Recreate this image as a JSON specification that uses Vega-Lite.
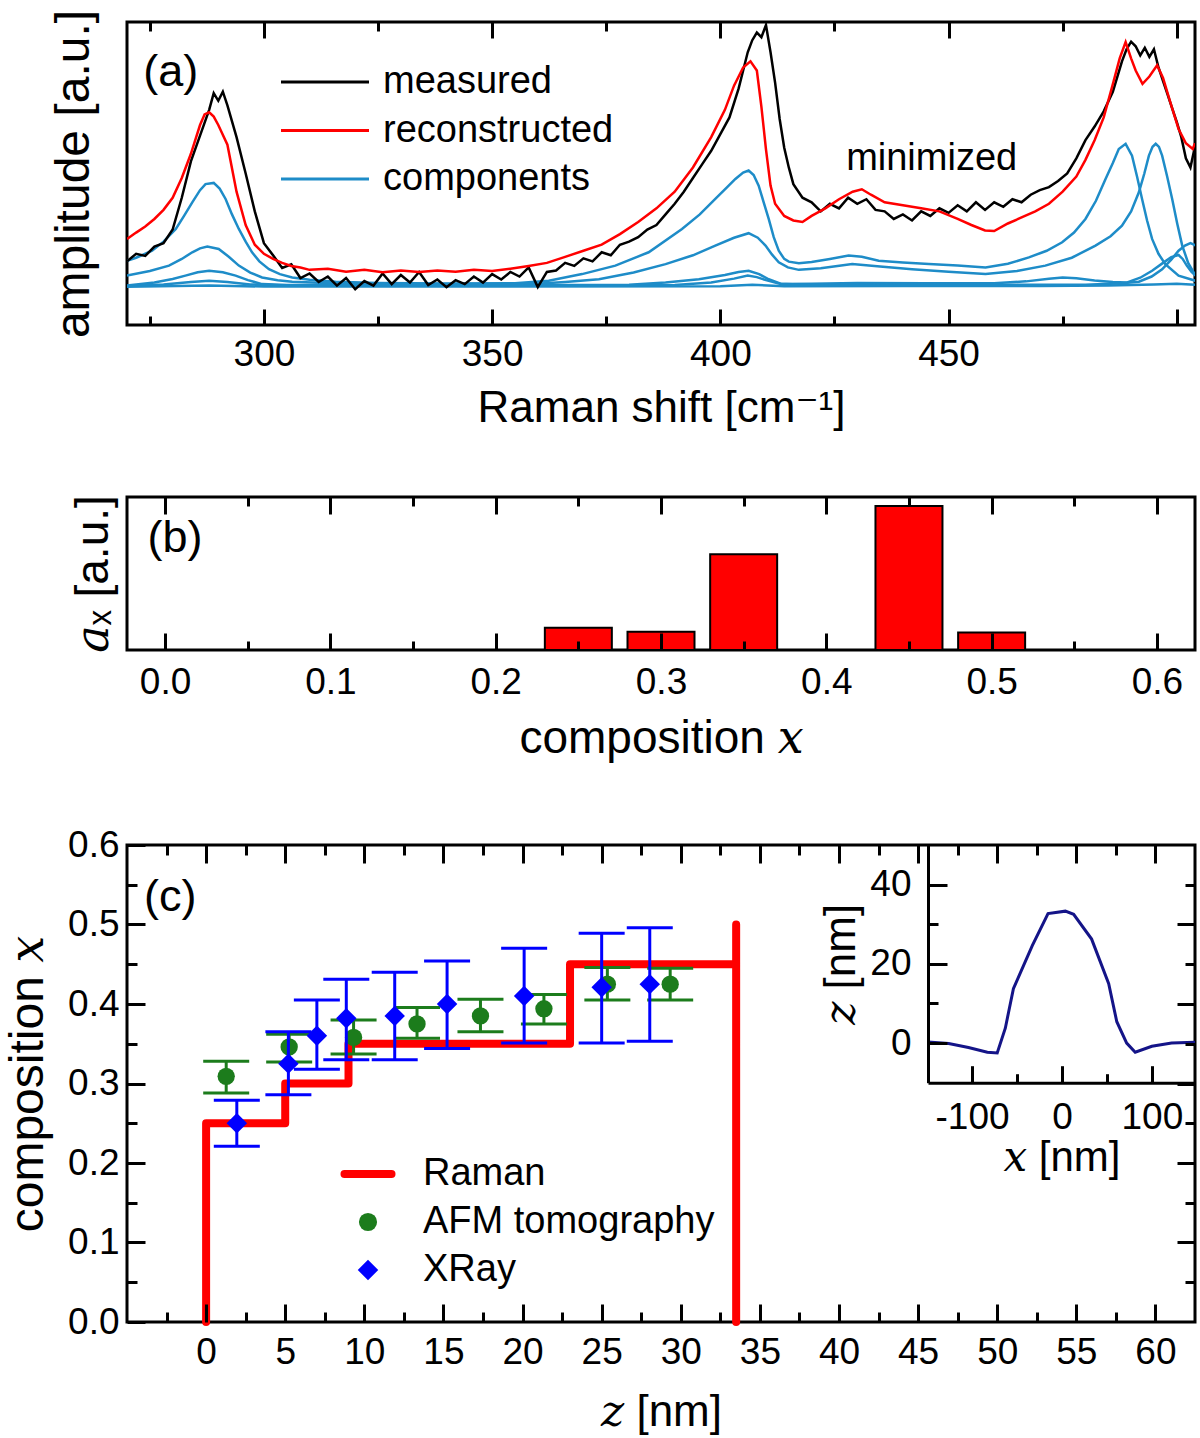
{
  "$schema": "https://vega.github.io/schema/vega-lite/v6.json",
  "background": "white",
  "padding": {"left": 3, "top": 7, "right": 2, "bottom": 2},
  "spacing": 61,
  "resolve": {"scale": {"color": "independent"}, "legend": {"color": "independent"}},
  "config": {
    "view": {"stroke": "#000000", "strokeWidth": 3},
    "axis": {
      "labelFont": "Liberation Sans", "labelFontSize": 37, "labelColor": "#000000",
      "titleFont": "Liberation Sans, DejaVu Serif", "titleFontSize": 44, "titleFontWeight": "normal", "titleColor": "#000000",
      "tickColor": "#000000", "tickWidth": 3, "domain": false, "grid": false,
      "labelFlush": false, "labelOverlap": false, "labelBound": false, "minExtent": 0
    },
    "legend": {"labelFont": "Liberation Sans", "labelColor": "#000000", "labelLimit": 0}
  },
  "datasets": {
    "measured": [
      {"series":"measured","shift":270,"amp":21.0},{"series":"measured","shift":272,"amp":23.5},{"series":"measured","shift":274,"amp":22.8},{"series":"measured","shift":276,"amp":25.9},{"series":"measured","shift":278,"amp":27.0},{"series":"measured","shift":280,"amp":31.5},{"series":"measured","shift":282,"amp":42.0},{"series":"measured","shift":284,"amp":54.0},{"series":"measured","shift":286,"amp":62.5},{"series":"measured","shift":288,"amp":71.0},{"series":"measured","shift":289,"amp":76.5},{"series":"measured","shift":290,"amp":74.0},{"series":"measured","shift":291,"amp":77.0},{"series":"measured","shift":292,"amp":72.5},{"series":"measured","shift":294,"amp":62.0},{"series":"measured","shift":296,"amp":50.0},{"series":"measured","shift":298,"amp":37.5},{"series":"measured","shift":300,"amp":27.0},{"series":"measured","shift":302,"amp":23.0},{"series":"measured","shift":304,"amp":18.8},{"series":"measured","shift":306,"amp":20.0},{"series":"measured","shift":308,"amp":15.5},{"series":"measured","shift":310,"amp":17.0},{"series":"measured","shift":312,"amp":14.2},{"series":"measured","shift":314,"amp":16.0},{"series":"measured","shift":316,"amp":13.0},{"series":"measured","shift":318,"amp":15.5},{"series":"measured","shift":320,"amp":11.8},{"series":"measured","shift":322,"amp":14.5},{"series":"measured","shift":324,"amp":13.0},{"series":"measured","shift":326,"amp":17.0},{"series":"measured","shift":328,"amp":13.5},{"series":"measured","shift":330,"amp":16.5},{"series":"measured","shift":332,"amp":14.0},{"series":"measured","shift":334,"amp":17.5},{"series":"measured","shift":336,"amp":13.2},{"series":"measured","shift":338,"amp":15.0},{"series":"measured","shift":340,"amp":12.5},{"series":"measured","shift":342,"amp":14.8},{"series":"measured","shift":344,"amp":13.5},{"series":"measured","shift":346,"amp":16.0},{"series":"measured","shift":348,"amp":14.0},{"series":"measured","shift":350,"amp":16.8},{"series":"measured","shift":352,"amp":15.0},{"series":"measured","shift":354,"amp":17.5},{"series":"measured","shift":356,"amp":16.0},{"series":"measured","shift":358,"amp":19.0},{"series":"measured","shift":360,"amp":12.5},{"series":"measured","shift":362,"amp":17.5},{"series":"measured","shift":364,"amp":18.0},{"series":"measured","shift":366,"amp":20.5},{"series":"measured","shift":368,"amp":19.5},{"series":"measured","shift":370,"amp":22.0},{"series":"measured","shift":372,"amp":21.0},{"series":"measured","shift":374,"amp":24.0},{"series":"measured","shift":376,"amp":23.0},{"series":"measured","shift":378,"amp":26.5},{"series":"measured","shift":380,"amp":27.5},{"series":"measured","shift":382,"amp":29.0},{"series":"measured","shift":384,"amp":31.5},{"series":"measured","shift":386,"amp":33.0},{"series":"measured","shift":388,"amp":36.5},{"series":"measured","shift":390,"amp":40.0},{"series":"measured","shift":392,"amp":44.0},{"series":"measured","shift":394,"amp":48.5},{"series":"measured","shift":396,"amp":53.0},{"series":"measured","shift":398,"amp":57.5},{"series":"measured","shift":400,"amp":63.0},{"series":"measured","shift":402,"amp":68.5},{"series":"measured","shift":404,"amp":78.0},{"series":"measured","shift":405,"amp":84.0},{"series":"measured","shift":406,"amp":90.0},{"series":"measured","shift":407,"amp":94.0},{"series":"measured","shift":408,"amp":96.5},{"series":"measured","shift":409,"amp":95.0},{"series":"measured","shift":410,"amp":99.0},{"series":"measured","shift":411,"amp":90.0},{"series":"measured","shift":412,"amp":80.0},{"series":"measured","shift":413,"amp":68.0},{"series":"measured","shift":414,"amp":58.5},{"series":"measured","shift":415,"amp":52.0},{"series":"measured","shift":416,"amp":46.5},{"series":"measured","shift":418,"amp":42.0},{"series":"measured","shift":420,"amp":40.5},{"series":"measured","shift":422,"amp":37.5},{"series":"measured","shift":424,"amp":40.0},{"series":"measured","shift":426,"amp":38.5},{"series":"measured","shift":428,"amp":42.0},{"series":"measured","shift":430,"amp":40.0},{"series":"measured","shift":432,"amp":41.5},{"series":"measured","shift":434,"amp":38.0},{"series":"measured","shift":436,"amp":37.5},{"series":"measured","shift":438,"amp":35.0},{"series":"measured","shift":440,"amp":36.5},{"series":"measured","shift":442,"amp":34.5},{"series":"measured","shift":444,"amp":37.5},{"series":"measured","shift":446,"amp":36.0},{"series":"measured","shift":448,"amp":38.5},{"series":"measured","shift":450,"amp":37.0},{"series":"measured","shift":452,"amp":39.5},{"series":"measured","shift":454,"amp":37.5},{"series":"measured","shift":456,"amp":40.5},{"series":"measured","shift":458,"amp":38.0},{"series":"measured","shift":460,"amp":40.5},{"series":"measured","shift":462,"amp":39.0},{"series":"measured","shift":464,"amp":41.5},{"series":"measured","shift":466,"amp":40.5},{"series":"measured","shift":468,"amp":43.0},{"series":"measured","shift":470,"amp":44.5},{"series":"measured","shift":472,"amp":45.5},{"series":"measured","shift":474,"amp":47.5},{"series":"measured","shift":476,"amp":50.0},{"series":"measured","shift":478,"amp":55.0},{"series":"measured","shift":480,"amp":61.0},{"series":"measured","shift":482,"amp":65.5},{"series":"measured","shift":484,"amp":70.5},{"series":"measured","shift":486,"amp":77.0},{"series":"measured","shift":488,"amp":87.0},{"series":"measured","shift":489,"amp":91.0},{"series":"measured","shift":490,"amp":93.5},{"series":"measured","shift":491,"amp":92.0},{"series":"measured","shift":492,"amp":89.0},{"series":"measured","shift":493,"amp":91.5},{"series":"measured","shift":494,"amp":88.5},{"series":"measured","shift":495,"amp":91.0},{"series":"measured","shift":496,"amp":85.0},{"series":"measured","shift":497,"amp":80.5},{"series":"measured","shift":498,"amp":76.0},{"series":"measured","shift":499,"amp":71.5},{"series":"measured","shift":500,"amp":67.0},{"series":"measured","shift":501,"amp":62.0},{"series":"measured","shift":502,"amp":55.0},{"series":"measured","shift":503,"amp":52.0},{"series":"measured","shift":504,"amp":59.0}
    ],
    "reconstructed": [
      {"series":"reconstructed","shift":270,"amp":28.4},{"series":"reconstructed","shift":272,"amp":30.5},{"series":"reconstructed","shift":274,"amp":32.5},{"series":"reconstructed","shift":276,"amp":35.0},{"series":"reconstructed","shift":278,"amp":38.0},{"series":"reconstructed","shift":280,"amp":42.0},{"series":"reconstructed","shift":282,"amp":48.5},{"series":"reconstructed","shift":284,"amp":56.5},{"series":"reconstructed","shift":286,"amp":66.0},{"series":"reconstructed","shift":287,"amp":69.5},{"series":"reconstructed","shift":288,"amp":70.2},{"series":"reconstructed","shift":289,"amp":68.8},{"series":"reconstructed","shift":290,"amp":66.0},{"series":"reconstructed","shift":292,"amp":59.5},{"series":"reconstructed","shift":294,"amp":44.0},{"series":"reconstructed","shift":296,"amp":33.0},{"series":"reconstructed","shift":298,"amp":26.5},{"series":"reconstructed","shift":300,"amp":23.5},{"series":"reconstructed","shift":302,"amp":21.8},{"series":"reconstructed","shift":304,"amp":20.5},{"series":"reconstructed","shift":306,"amp":19.5},{"series":"reconstructed","shift":308,"amp":19.0},{"series":"reconstructed","shift":310,"amp":18.2},{"series":"reconstructed","shift":314,"amp":18.6},{"series":"reconstructed","shift":318,"amp":17.6},{"series":"reconstructed","shift":322,"amp":18.2},{"series":"reconstructed","shift":326,"amp":17.4},{"series":"reconstructed","shift":330,"amp":18.0},{"series":"reconstructed","shift":334,"amp":17.5},{"series":"reconstructed","shift":338,"amp":18.0},{"series":"reconstructed","shift":342,"amp":17.6},{"series":"reconstructed","shift":346,"amp":18.2},{"series":"reconstructed","shift":350,"amp":17.8},{"series":"reconstructed","shift":354,"amp":18.6},{"series":"reconstructed","shift":358,"amp":19.5},{"series":"reconstructed","shift":362,"amp":20.5},{"series":"reconstructed","shift":366,"amp":22.5},{"series":"reconstructed","shift":370,"amp":24.5},{"series":"reconstructed","shift":374,"amp":26.5},{"series":"reconstructed","shift":378,"amp":30.0},{"series":"reconstructed","shift":382,"amp":34.0},{"series":"reconstructed","shift":386,"amp":38.5},{"series":"reconstructed","shift":390,"amp":44.0},{"series":"reconstructed","shift":394,"amp":52.0},{"series":"reconstructed","shift":398,"amp":62.0},{"series":"reconstructed","shift":401,"amp":71.0},{"series":"reconstructed","shift":403,"amp":79.0},{"series":"reconstructed","shift":405,"amp":85.0},{"series":"reconstructed","shift":406.6,"amp":87.0},{"series":"reconstructed","shift":408,"amp":84.0},{"series":"reconstructed","shift":409,"amp":72.0},{"series":"reconstructed","shift":410,"amp":58.0},{"series":"reconstructed","shift":411,"amp":46.0},{"series":"reconstructed","shift":412,"amp":40.0},{"series":"reconstructed","shift":414,"amp":36.0},{"series":"reconstructed","shift":416,"amp":34.5},{"series":"reconstructed","shift":418,"amp":34.0},{"series":"reconstructed","shift":420,"amp":36.0},{"series":"reconstructed","shift":423,"amp":38.5},{"series":"reconstructed","shift":426,"amp":41.5},{"series":"reconstructed","shift":429,"amp":44.0},{"series":"reconstructed","shift":431,"amp":44.8},{"series":"reconstructed","shift":433,"amp":43.0},{"series":"reconstructed","shift":436,"amp":40.5},{"series":"reconstructed","shift":440,"amp":39.5},{"series":"reconstructed","shift":444,"amp":38.5},{"series":"reconstructed","shift":448,"amp":37.5},{"series":"reconstructed","shift":452,"amp":35.0},{"series":"reconstructed","shift":455,"amp":33.0},{"series":"reconstructed","shift":458,"amp":31.2},{"series":"reconstructed","shift":460,"amp":31.0},{"series":"reconstructed","shift":463,"amp":33.5},{"series":"reconstructed","shift":466,"amp":35.5},{"series":"reconstructed","shift":469,"amp":37.5},{"series":"reconstructed","shift":472,"amp":40.0},{"series":"reconstructed","shift":475,"amp":44.0},{"series":"reconstructed","shift":478,"amp":49.0},{"series":"reconstructed","shift":480,"amp":54.5},{"series":"reconstructed","shift":482,"amp":61.0},{"series":"reconstructed","shift":484,"amp":68.5},{"series":"reconstructed","shift":486,"amp":79.5},{"series":"reconstructed","shift":487.5,"amp":88.0},{"series":"reconstructed","shift":488.8,"amp":93.4},{"series":"reconstructed","shift":490,"amp":88.0},{"series":"reconstructed","shift":491,"amp":84.0},{"series":"reconstructed","shift":492.5,"amp":79.6},{"series":"reconstructed","shift":494,"amp":82.0},{"series":"reconstructed","shift":495.7,"amp":85.7},{"series":"reconstructed","shift":497,"amp":81.5},{"series":"reconstructed","shift":498.5,"amp":74.0},{"series":"reconstructed","shift":500.4,"amp":64.7},{"series":"reconstructed","shift":502,"amp":60.0},{"series":"reconstructed","shift":503.5,"amp":58.1},{"series":"reconstructed","shift":504,"amp":60.0}
    ],
    "components": [
      {"series":"components","curve":"c1","shift":270,"amp":21.2},{"series":"components","curve":"c1","shift":272,"amp":22.2},{"series":"components","curve":"c1","shift":275.5,"amp":24.5},{"series":"components","curve":"c1","shift":278,"amp":27.5},{"series":"components","curve":"c1","shift":280.7,"amp":31.7},{"series":"components","curve":"c1","shift":282.5,"amp":36.0},{"series":"components","curve":"c1","shift":284.3,"amp":40.5},{"series":"components","curve":"c1","shift":286,"amp":44.5},{"series":"components","curve":"c1","shift":287.2,"amp":46.5},{"series":"components","curve":"c1","shift":289,"amp":46.9},{"series":"components","curve":"c1","shift":290.3,"amp":45.0},{"series":"components","curve":"c1","shift":291.6,"amp":41.6},{"series":"components","curve":"c1","shift":293,"amp":36.5},{"series":"components","curve":"c1","shift":294.5,"amp":31.7},{"series":"components","curve":"c1","shift":296,"amp":27.5},{"series":"components","curve":"c1","shift":297.4,"amp":24.0},{"series":"components","curve":"c1","shift":299,"amp":21.0},{"series":"components","curve":"c1","shift":301.1,"amp":18.4},{"series":"components","curve":"c1","shift":303.5,"amp":16.8},{"series":"components","curve":"c1","shift":306.2,"amp":15.7},{"series":"components","curve":"c1","shift":310,"amp":14.9},{"series":"components","curve":"c1","shift":315.7,"amp":14.3},{"series":"components","curve":"c1","shift":325,"amp":13.9},{"series":"components","curve":"c1","shift":340,"amp":13.7},{"series":"components","curve":"c1","shift":355,"amp":13.8},{"series":"components","curve":"c1","shift":362.4,"amp":14.6},{"series":"components","curve":"c1","shift":369.7,"amp":16.8},{"series":"components","curve":"c1","shift":377,"amp":19.6},{"series":"components","curve":"c1","shift":384.3,"amp":24.0},{"series":"components","curve":"c1","shift":391.6,"amp":31.7},{"series":"components","curve":"c1","shift":395.5,"amp":36.5},{"series":"components","curve":"c1","shift":398.9,"amp":41.6},{"series":"components","curve":"c1","shift":401.5,"amp":45.5},{"series":"components","curve":"c1","shift":403.3,"amp":48.2},{"series":"components","curve":"c1","shift":405,"amp":50.3},{"series":"components","curve":"c1","shift":406.2,"amp":51.0},{"series":"components","curve":"c1","shift":407.3,"amp":49.5},{"series":"components","curve":"c1","shift":408.4,"amp":46.0},{"series":"components","curve":"c1","shift":409.5,"amp":40.5},{"series":"components","curve":"c1","shift":410.6,"amp":35.0},{"series":"components","curve":"c1","shift":411.7,"amp":29.0},{"series":"components","curve":"c1","shift":412.8,"amp":24.5},{"series":"components","curve":"c1","shift":414,"amp":21.8},{"series":"components","curve":"c1","shift":415,"amp":20.9},{"series":"components","curve":"c1","shift":417.2,"amp":20.4},{"series":"components","curve":"c1","shift":420,"amp":20.8},{"series":"components","curve":"c1","shift":424,"amp":21.8},{"series":"components","curve":"c1","shift":428.1,"amp":22.9},{"series":"components","curve":"c1","shift":431,"amp":22.5},{"series":"components","curve":"c1","shift":434.7,"amp":21.2},{"series":"components","curve":"c1","shift":440,"amp":20.6},{"series":"components","curve":"c1","shift":445.7,"amp":20.1},{"series":"components","curve":"c1","shift":452,"amp":19.6},{"series":"components","curve":"c1","shift":458.1,"amp":19.0},{"series":"components","curve":"c1","shift":463,"amp":20.2},{"series":"components","curve":"c1","shift":467.6,"amp":22.3},{"series":"components","curve":"c1","shift":471.5,"amp":24.5},{"series":"components","curve":"c1","shift":474.9,"amp":27.3},{"series":"components","curve":"c1","shift":477.5,"amp":30.5},{"series":"components","curve":"c1","shift":480,"amp":35.0},{"series":"components","curve":"c1","shift":482.3,"amp":41.0},{"series":"components","curve":"c1","shift":484.4,"amp":48.2},{"series":"components","curve":"c1","shift":486,"amp":53.5},{"series":"components","curve":"c1","shift":487.3,"amp":58.1},{"series":"components","curve":"c1","shift":488.8,"amp":59.8},{"series":"components","curve":"c1","shift":490.2,"amp":55.9},{"series":"components","curve":"c1","shift":491.3,"amp":49.0},{"series":"components","curve":"c1","shift":492.4,"amp":41.6},{"series":"components","curve":"c1","shift":493.5,"amp":34.5},{"series":"components","curve":"c1","shift":494.6,"amp":28.4},{"series":"components","curve":"c1","shift":496,"amp":23.5},{"series":"components","curve":"c1","shift":497.5,"amp":20.1},{"series":"components","curve":"c1","shift":500.4,"amp":16.3},{"series":"components","curve":"c1","shift":504.1,"amp":14.6},
      {"series":"components","curve":"c2","shift":270,"amp":16.3},{"series":"components","curve":"c2","shift":275,"amp":17.8},{"series":"components","curve":"c2","shift":279.2,"amp":19.6},{"series":"components","curve":"c2","shift":282,"amp":21.8},{"series":"components","curve":"c2","shift":284.3,"amp":24.0},{"series":"components","curve":"c2","shift":286,"amp":25.3},{"series":"components","curve":"c2","shift":287.6,"amp":25.9},{"series":"components","curve":"c2","shift":290.1,"amp":25.1},{"series":"components","curve":"c2","shift":292.3,"amp":22.5},{"series":"components","curve":"c2","shift":294.5,"amp":19.6},{"series":"components","curve":"c2","shift":297,"amp":17.3},{"series":"components","curve":"c2","shift":299.6,"amp":15.7},{"series":"components","curve":"c2","shift":303,"amp":14.8},{"series":"components","curve":"c2","shift":306.2,"amp":14.3},{"series":"components","curve":"c2","shift":315,"amp":13.8},{"series":"components","curve":"c2","shift":330,"amp":13.5},{"series":"components","curve":"c2","shift":358.8,"amp":13.5},{"series":"components","curve":"c2","shift":366,"amp":14.2},{"series":"components","curve":"c2","shift":373.4,"amp":15.1},{"series":"components","curve":"c2","shift":381,"amp":17.3},{"series":"components","curve":"c2","shift":388,"amp":20.1},{"series":"components","curve":"c2","shift":394,"amp":23.0},{"series":"components","curve":"c2","shift":398.9,"amp":26.2},{"series":"components","curve":"c2","shift":403,"amp":28.8},{"series":"components","curve":"c2","shift":406.2,"amp":30.3},{"series":"components","curve":"c2","shift":408.2,"amp":28.8},{"series":"components","curve":"c2","shift":409.9,"amp":26.2},{"series":"components","curve":"c2","shift":411.3,"amp":23.3},{"series":"components","curve":"c2","shift":412.8,"amp":20.7},{"series":"components","curve":"c2","shift":414.8,"amp":19.0},{"series":"components","curve":"c2","shift":417.2,"amp":18.2},{"series":"components","curve":"c2","shift":422,"amp":18.7},{"series":"components","curve":"c2","shift":428.9,"amp":20.1},{"series":"components","curve":"c2","shift":435,"amp":19.3},{"series":"components","curve":"c2","shift":442,"amp":18.4},{"series":"components","curve":"c2","shift":450,"amp":17.6},{"series":"components","curve":"c2","shift":458.1,"amp":16.8},{"series":"components","curve":"c2","shift":465,"amp":17.8},{"series":"components","curve":"c2","shift":471.2,"amp":19.6},{"series":"components","curve":"c2","shift":477,"amp":22.2},{"series":"components","curve":"c2","shift":482.2,"amp":26.2},{"series":"components","curve":"c2","shift":485.5,"amp":29.3},{"series":"components","curve":"c2","shift":488,"amp":32.8},{"series":"components","curve":"c2","shift":490,"amp":37.5},{"series":"components","curve":"c2","shift":491.7,"amp":43.8},{"series":"components","curve":"c2","shift":492.9,"amp":50.0},{"series":"components","curve":"c2","shift":493.9,"amp":55.9},{"series":"components","curve":"c2","shift":494.7,"amp":58.8},{"series":"components","curve":"c2","shift":495.4,"amp":59.8},{"series":"components","curve":"c2","shift":496.1,"amp":58.8},{"series":"components","curve":"c2","shift":496.8,"amp":55.9},{"series":"components","curve":"c2","shift":497.9,"amp":49.0},{"series":"components","curve":"c2","shift":499,"amp":41.6},{"series":"components","curve":"c2","shift":500.1,"amp":33.5},{"series":"components","curve":"c2","shift":501.2,"amp":26.2},{"series":"components","curve":"c2","shift":502.5,"amp":20.5},{"series":"components","curve":"c2","shift":504.1,"amp":16.3},
      {"series":"components","curve":"c3","shift":270,"amp":13.0},{"series":"components","curve":"c3","shift":276,"amp":14.0},{"series":"components","curve":"c3","shift":280,"amp":15.2},{"series":"components","curve":"c3","shift":282.8,"amp":16.3},{"series":"components","curve":"c3","shift":285.5,"amp":17.4},{"series":"components","curve":"c3","shift":288,"amp":17.9},{"series":"components","curve":"c3","shift":291,"amp":17.4},{"series":"components","curve":"c3","shift":293.8,"amp":16.3},{"series":"components","curve":"c3","shift":296.5,"amp":14.8},{"series":"components","curve":"c3","shift":299.6,"amp":13.5},{"series":"components","curve":"c3","shift":305,"amp":13.2},{"series":"components","curve":"c3","shift":320,"amp":13.2},{"series":"components","curve":"c3","shift":350,"amp":13.2},{"series":"components","curve":"c3","shift":380,"amp":13.3},{"series":"components","curve":"c3","shift":388,"amp":14.0},{"series":"components","curve":"c3","shift":395.3,"amp":15.1},{"series":"components","curve":"c3","shift":401,"amp":16.5},{"series":"components","curve":"c3","shift":404,"amp":17.5},{"series":"components","curve":"c3","shift":406.2,"amp":17.9},{"series":"components","curve":"c3","shift":408.5,"amp":16.8},{"series":"components","curve":"c3","shift":410.6,"amp":15.1},{"series":"components","curve":"c3","shift":413.5,"amp":13.5},{"series":"components","curve":"c3","shift":420,"amp":13.6},{"series":"components","curve":"c3","shift":430,"amp":13.9},{"series":"components","curve":"c3","shift":445,"amp":13.8},{"series":"components","curve":"c3","shift":460,"amp":13.8},{"series":"components","curve":"c3","shift":467,"amp":14.4},{"series":"components","curve":"c3","shift":472,"amp":15.3},{"series":"components","curve":"c3","shift":475,"amp":15.7},{"series":"components","curve":"c3","shift":478,"amp":15.4},{"series":"components","curve":"c3","shift":482,"amp":14.7},{"series":"components","curve":"c3","shift":486,"amp":14.2},{"series":"components","curve":"c3","shift":489,"amp":14.0},{"series":"components","curve":"c3","shift":492,"amp":15.6},{"series":"components","curve":"c3","shift":494.6,"amp":17.9},{"series":"components","curve":"c3","shift":497,"amp":20.5},{"series":"components","curve":"c3","shift":498.8,"amp":22.4},{"series":"components","curve":"c3","shift":500.4,"amp":23.1},{"series":"components","curve":"c3","shift":501.3,"amp":21.8},{"series":"components","curve":"c3","shift":502.2,"amp":19.6},{"series":"components","curve":"c3","shift":503.2,"amp":17.6},{"series":"components","curve":"c3","shift":504.1,"amp":16.3},
      {"series":"components","curve":"c4","shift":270,"amp":12.9},{"series":"components","curve":"c4","shift":278,"amp":13.4},{"series":"components","curve":"c4","shift":284,"amp":14.2},{"series":"components","curve":"c4","shift":288,"amp":14.6},{"series":"components","curve":"c4","shift":292,"amp":14.2},{"series":"components","curve":"c4","shift":297,"amp":13.4},{"series":"components","curve":"c4","shift":305,"amp":13.0},{"series":"components","curve":"c4","shift":350,"amp":13.0},{"series":"components","curve":"c4","shift":390,"amp":13.2},{"series":"components","curve":"c4","shift":398,"amp":14.0},{"series":"components","curve":"c4","shift":403,"amp":15.3},{"series":"components","curve":"c4","shift":406,"amp":16.3},{"series":"components","curve":"c4","shift":408,"amp":15.8},{"series":"components","curve":"c4","shift":410,"amp":14.8},{"series":"components","curve":"c4","shift":413,"amp":13.6},{"series":"components","curve":"c4","shift":420,"amp":13.2},{"series":"components","curve":"c4","shift":440,"amp":13.4},{"series":"components","curve":"c4","shift":460,"amp":13.3},{"series":"components","curve":"c4","shift":480,"amp":13.3},{"series":"components","curve":"c4","shift":488,"amp":13.8},{"series":"components","curve":"c4","shift":491.7,"amp":14.3},{"series":"components","curve":"c4","shift":494.5,"amp":16.0},{"series":"components","curve":"c4","shift":496.8,"amp":18.4},{"series":"components","curve":"c4","shift":498.8,"amp":21.6},{"series":"components","curve":"c4","shift":500.4,"amp":24.5},{"series":"components","curve":"c4","shift":501.8,"amp":26.2},{"series":"components","curve":"c4","shift":503,"amp":27.0},{"series":"components","curve":"c4","shift":504.3,"amp":26.2},
      {"series":"components","curve":"c5","shift":270,"amp":12.6},{"series":"components","curve":"c5","shift":288,"amp":13.0},{"series":"components","curve":"c5","shift":300,"amp":12.7},{"series":"components","curve":"c5","shift":350,"amp":12.7},{"series":"components","curve":"c5","shift":400,"amp":12.8},{"series":"components","curve":"c5","shift":407,"amp":13.3},{"series":"components","curve":"c5","shift":414,"amp":12.8},{"series":"components","curve":"c5","shift":440,"amp":12.9},{"series":"components","curve":"c5","shift":470,"amp":12.9},{"series":"components","curve":"c5","shift":485,"amp":13.0},{"series":"components","curve":"c5","shift":495,"amp":13.4},{"series":"components","curve":"c5","shift":500,"amp":13.6},{"series":"components","curve":"c5","shift":504,"amp":13.3}
    ],
    "bars": [
      {"x":0.25,"weight":0.146},{"x":0.30,"weight":0.12},{"x":0.35,"weight":0.626},{"x":0.45,"weight":0.941},{"x":0.50,"weight":0.115}
    ],
    "raman": [
      {"series":"Raman","z":0,"x":0},{"series":"Raman","z":0,"x":0.25},{"series":"Raman","z":5,"x":0.25},{"series":"Raman","z":5,"x":0.30},{"series":"Raman","z":9,"x":0.30},{"series":"Raman","z":9,"x":0.35},{"series":"Raman","z":23,"x":0.35},{"series":"Raman","z":23,"x":0.45},{"series":"Raman","z":33.5,"x":0.45},{"series":"Raman","z":33.5,"x":0.50},{"series":"Raman","z":33.5,"x":0}
    ],
    "afm": [
      {"series":"AFM tomography","z":1.27,"x":0.309,"lo":0.288,"hi":0.328},
      {"series":"AFM tomography","z":5.25,"x":0.346,"lo":0.327,"hi":0.362},
      {"series":"AFM tomography","z":9.32,"x":0.358,"lo":0.337,"hi":0.380},
      {"series":"AFM tomography","z":13.33,"x":0.375,"lo":0.357,"hi":0.3955},
      {"series":"AFM tomography","z":17.34,"x":0.385,"lo":0.365,"hi":0.406},
      {"series":"AFM tomography","z":21.35,"x":0.394,"lo":0.375,"hi":0.412},
      {"series":"AFM tomography","z":25.36,"x":0.425,"lo":0.405,"hi":0.446},
      {"series":"AFM tomography","z":29.33,"x":0.425,"lo":0.405,"hi":0.445}
    ],
    "xray": [
      {"series":"XRay","z":1.94,"x":0.250,"lo":0.221,"hi":0.279},
      {"series":"XRay","z":5.2,"x":0.325,"lo":0.286,"hi":0.365},
      {"series":"XRay","z":7.0,"x":0.360,"lo":0.318,"hi":0.405},
      {"series":"XRay","z":8.86,"x":0.382,"lo":0.330,"hi":0.431},
      {"series":"XRay","z":11.92,"x":0.385,"lo":0.330,"hi":0.440},
      {"series":"XRay","z":15.23,"x":0.400,"lo":0.344,"hi":0.454},
      {"series":"XRay","z":20.1,"x":0.410,"lo":0.351,"hi":0.470},
      {"series":"XRay","z":25.0,"x":0.421,"lo":0.351,"hi":0.489},
      {"series":"XRay","z":28.04,"x":0.425,"lo":0.353,"hi":0.496}
    ],
    "inset": [
      {"pos":-149,"height":0.25},{"pos":-126,"height":-0.1},{"pos":-104,"height":-1.1},{"pos":-83,"height":-2.3},{"pos":-72,"height":-2.5},{"pos":-63,"height":3.75},{"pos":-54,"height":13.75},{"pos":-33,"height":24.6},{"pos":-15.5,"height":32.7},{"pos":3.8,"height":33.3},{"pos":13,"height":32.5},{"pos":33,"height":26.25},{"pos":52,"height":15},{"pos":61,"height":5.4},{"pos":72,"height":0},{"pos":81.5,"height":-2.3},{"pos":100,"height":-0.8},{"pos":122,"height":0},{"pos":148,"height":0.2}
    ]
  },
  "vconcat": [
    {
      "width": 1068, "height": 303,
      "resolve": {"axis": {"x": "independent", "y": "independent"}},
      "layer": [
        {
          "data": {"name": "components"},
          "mark": {"type": "line", "strokeWidth": 2.5, "clip": true},
          "encoding": {
            "x": {"field": "shift", "type": "quantitative", "scale": {"domain": [270, 504], "nice": false, "zero": false},
              "axis": {"orient": "bottom", "title": "Raman shift [cm⁻¹]", "values": [275,300,325,350,375,400,425,450,475,500],
                "labelExpr": "datum.value % 50 === 0 && datum.value < 500 ? toString(datum.value) : ''",
                "tickSize": {"condition": {"test": "datum.value % 50 === 0", "value": -16}, "value": -9},
                "labelPadding": 27, "titlePadding": 7, "zindex": 1}},
            "y": {"field": "amp", "type": "quantitative", "scale": {"domain": [0, 100], "nice": false, "zero": false},
              "axis": {"orient": "left", "title": "amplitude [a.u.]", "labels": false, "ticks": false, "titlePadding": 29, "titleFontSize": 48}},
            "color": {"field": "series", "type": "nominal",
              "scale": {"domain": ["measured", "reconstructed", "components"], "range": ["#000000", "#ff0000", "#1e8cc8"]},
              "legend": {"orient": "none", "legendX": 179, "legendY": 41, "title": null, "symbolType": "M-4,0L4,0", "symbolSize": 484, "symbolStrokeWidth": 3, "labelFontSize": 38, "labelOffset": 39, "rowPadding": 10.5, "padding": 0}},
            "detail": {"field": "curve", "type": "nominal"}
          }
        },
        {
          "data": {"name": "measured"},
          "mark": {"type": "line", "strokeWidth": 2.5, "clip": true},
          "encoding": {
            "x": {"field": "shift", "type": "quantitative", "scale": {"domain": [270, 504], "nice": false, "zero": false},
              "axis": {"orient": "top", "title": null, "labels": false, "values": [275,300,325,350,375,400,425,450,475,500],
                "tickSize": {"condition": {"test": "datum.value % 50 === 0", "value": -16}, "value": -9}, "zindex": 1}},
            "y": {"field": "amp", "type": "quantitative", "scale": {"domain": [0, 100], "nice": false, "zero": false}, "axis": null},
            "color": {"field": "series", "type": "nominal", "scale": {"domain": ["measured", "reconstructed", "components"], "range": ["#000000", "#ff0000", "#1e8cc8"]}}
          }
        },
        {
          "data": {"name": "reconstructed"},
          "mark": {"type": "line", "strokeWidth": 2.5, "clip": true},
          "encoding": {
            "x": {"field": "shift", "type": "quantitative", "scale": {"domain": [270, 504], "nice": false, "zero": false}, "axis": null},
            "y": {"field": "amp", "type": "quantitative", "scale": {"domain": [0, 100], "nice": false, "zero": false}, "axis": null},
            "color": {"field": "series", "type": "nominal", "scale": {"domain": ["measured", "reconstructed", "components"], "range": ["#000000", "#ff0000", "#1e8cc8"]}}
          }
        },
        {
          "data": {"values": [{}]},
          "mark": {"type": "text", "font": "Liberation Sans", "fontSize": 45, "color": "#000000", "align": "center", "baseline": "middle"},
          "encoding": {
            "x": {"datum": 279.6, "type": "quantitative", "scale": {"domain": [270, 504], "nice": false, "zero": false}, "axis": null},
            "y": {"datum": 83.5, "type": "quantitative", "scale": {"domain": [0, 100], "nice": false, "zero": false}, "axis": null},
            "text": {"value": "(a)"}
          }
        },
        {
          "data": {"values": [{}]},
          "mark": {"type": "text", "font": "Liberation Sans", "fontSize": 38, "color": "#000000", "align": "center", "baseline": "middle"},
          "encoding": {
            "x": {"datum": 446.3, "type": "quantitative", "scale": {"domain": [270, 504], "nice": false, "zero": false}, "axis": null},
            "y": {"datum": 54.7, "type": "quantitative", "scale": {"domain": [0, 100], "nice": false, "zero": false}, "axis": null},
            "text": {"value": "minimized"}
          }
        }
      ]
    },
    {
      "width": 1068, "height": 153,
      "resolve": {"axis": {"x": "independent", "y": "independent"}},
      "layer": [
        {
          "data": {"name": "bars"},
          "mark": {"type": "bar", "width": 67, "fill": "#ff0000", "stroke": "#000000", "strokeWidth": 2},
          "encoding": {
            "x": {"field": "x", "type": "quantitative", "scale": {"domain": [-0.02, 0.62], "nice": false, "zero": false},
              "axis": {"orient": "bottom", "title": "composition 𝑥", "titleFontSize": 46, "values": [0,0.05,0.1,0.15,0.2,0.25,0.3,0.35,0.4,0.45,0.5,0.55,0.6],
                "labelExpr": "abs(datum.value*10 - round(datum.value*10)) < 0.001 ? format(datum.value, '.1f') : ''",
                "tickSize": {"condition": {"test": "abs(datum.value*10 - round(datum.value*10)) < 0.001", "value": -17}, "value": -9},
                "labelPadding": 31, "titlePadding": 8, "zindex": 1}},
            "y": {"field": "weight", "type": "quantitative", "scale": {"domain": [0, 1], "nice": false, "zero": false},
              "axis": {"orient": "left", "title": "𝑎ₓ [a.u.]", "labels": false, "ticks": false, "titlePadding": 10, "titleFontSize": 46}}
          }
        },
        {
          "data": {"values": [{}]},
          "mark": {"type": "text", "font": "Liberation Sans", "fontSize": 45, "color": "#000000", "align": "center", "baseline": "middle"},
          "encoding": {
            "x": {"datum": 0.006, "type": "quantitative", "scale": {"domain": [-0.02, 0.62], "nice": false, "zero": false},
              "axis": {"orient": "top", "title": null, "labels": false, "values": [0,0.05,0.1,0.15,0.2,0.25,0.3,0.35,0.4,0.45,0.5,0.55,0.6],
                "tickSize": {"condition": {"test": "abs(datum.value*10 - round(datum.value*10)) < 0.001", "value": -17}, "value": -9}, "zindex": 1}},
            "y": {"datum": 0.73, "type": "quantitative", "scale": {"domain": [0, 1], "nice": false, "zero": false}, "axis": null},
            "text": {"value": "(b)"}
          }
        }
      ]
    },
    {
      "width": 1068, "height": 477,
      "resolve": {"scale": {"x": "independent", "y": "independent"}},
      "layer": [
        {
          "resolve": {"axis": {"x": "independent", "y": "independent"}},
          "layer": [
            {
              "data": {"name": "raman"},
              "mark": {"type": "line", "strokeWidth": 8, "strokeCap": "round", "strokeJoin": "round"},
              "encoding": {
                "x": {"field": "z", "type": "quantitative", "scale": {"domain": [-5, 62.5], "nice": false, "zero": false},
                  "axis": {"orient": "bottom", "title": "𝑧 [nm]", "values": [-2.5,0,2.5,5,7.5,10,12.5,15,17.5,20,22.5,25,27.5,30,32.5,35,37.5,40,42.5,45,47.5,50,52.5,55,57.5,60],
                    "labelExpr": "datum.value % 5 === 0 && datum.value >= 0 ? toString(datum.value) : ''",
                    "tickSize": {"condition": {"test": "datum.value % 5 === 0", "value": -18}, "value": -10},
                    "labelPadding": 30, "titlePadding": 12, "zindex": 1}},
                "y": {"field": "x", "type": "quantitative", "scale": {"domain": [0, 0.6], "nice": false, "zero": false},
                  "axis": {"orient": "left", "title": "composition 𝑥", "titleFontSize": 48, "values": [0,0.05,0.1,0.15,0.2,0.25,0.3,0.35,0.4,0.45,0.5,0.55,0.6],
                    "labelExpr": "abs(datum.value*10 - round(datum.value*10)) < 0.001 ? format(datum.value, '.1f') : ''",
                    "tickSize": {"condition": {"test": "abs(datum.value*10 - round(datum.value*10)) < 0.001", "value": -18}, "value": -10},
                    "labelPadding": 26, "titlePadding": 15, "zindex": 1}},
                "color": {"field": "series", "type": "nominal",
                  "scale": {"domain": ["Raman", "AFM tomography", "XRay"], "range": ["#ff0000", "#1c7c1c", "#0000ff"]},
                  "legend": {"orient": "none", "legendX": 222, "legendY": 310, "title": null, "symbolSize": 2209, "symbolStrokeWidth": 8,
                    "labelFontSize": 38, "labelOffset": 36, "rowPadding": 10, "padding": 0,
                    "encode": {"symbols": {"update": {
                      "shape": {"signal": "datum.value === 'Raman' ? 'stroke' : datum.value === 'XRay' ? 'diamond' : 'circle'"},
                      "size": {"signal": "datum.value === 'Raman' ? 2209 : datum.value === 'XRay' ? 420 : 330"},
                      "fill": {"signal": "datum.value === 'Raman' ? 'transparent' : datum.value === 'XRay' ? '#0000ff' : '#1c7c1c'"},
                      "stroke": {"signal": "datum.value === 'Raman' ? '#ff0000' : 'transparent'"},
                      "strokeWidth": {"signal": "datum.value === 'Raman' ? 8 : 0"},
                      "strokeCap": {"value": "round"},
                      "opacity": {"value": 1}
                    }}}}},
                "order": {"value": null}
              }
            },
            {
              "data": {"name": "afm"},
              "mark": {"type": "rule", "strokeWidth": 3, "color": "#1c7c1c"},
              "encoding": {
                "x": {"field": "z", "type": "quantitative", "scale": {"domain": [-5, 62.5], "nice": false, "zero": false},
                  "axis": {"orient": "top", "title": null, "labels": false, "values": [-2.5,0,2.5,5,7.5,10,12.5,15,17.5,20,22.5,25,27.5,30,32.5,35,37.5,40,42.5,45,47.5,50,52.5,55,57.5,60],
                    "tickSize": {"condition": {"test": "datum.value % 5 === 0", "value": -18}, "value": -10}, "zindex": 1}},
                "y": {"field": "lo", "type": "quantitative", "scale": {"domain": [0, 0.6], "nice": false, "zero": false},
                  "axis": {"orient": "right", "title": null, "labels": false, "values": [0.05,0.1,0.15,0.2,0.25,0.3,0.35,0.4,0.45,0.5,0.55],
                    "tickSize": {"condition": {"test": "abs(datum.value*10 - round(datum.value*10)) < 0.001", "value": -18}, "value": -10}, "zindex": 1}},
                "y2": {"field": "hi"}
              }
            },
            {
              "data": {"name": "afm"},
              "mark": {"type": "tick", "orient": "horizontal", "size": 46, "thickness": 3, "color": "#1c7c1c", "opacity": 1},
              "encoding": {
                "x": {"field": "z", "type": "quantitative", "scale": {"domain": [-5, 62.5], "nice": false, "zero": false}, "axis": null},
                "y": {"field": "hi", "type": "quantitative", "scale": {"domain": [0, 0.6], "nice": false, "zero": false}, "axis": null}
              }
            },
            {
              "data": {"name": "afm"},
              "mark": {"type": "tick", "orient": "horizontal", "size": 46, "thickness": 3, "color": "#1c7c1c", "opacity": 1},
              "encoding": {
                "x": {"field": "z", "type": "quantitative", "scale": {"domain": [-5, 62.5], "nice": false, "zero": false}, "axis": null},
                "y": {"field": "lo", "type": "quantitative", "scale": {"domain": [0, 0.6], "nice": false, "zero": false}, "axis": null}
              }
            },
            {
              "data": {"name": "afm"},
              "mark": {"type": "point", "shape": "circle", "filled": true, "size": 300, "opacity": 1},
              "encoding": {
                "x": {"field": "z", "type": "quantitative", "scale": {"domain": [-5, 62.5], "nice": false, "zero": false}, "axis": null},
                "y": {"field": "x", "type": "quantitative", "scale": {"domain": [0, 0.6], "nice": false, "zero": false}, "axis": null},
                "color": {"field": "series", "type": "nominal", "scale": {"domain": ["Raman", "AFM tomography", "XRay"], "range": ["#ff0000", "#1c7c1c", "#0000ff"]}}
              }
            },
            {
              "data": {"name": "xray"},
              "mark": {"type": "rule", "strokeWidth": 3, "color": "#0000ff"},
              "encoding": {
                "x": {"field": "z", "type": "quantitative", "scale": {"domain": [-5, 62.5], "nice": false, "zero": false}, "axis": null},
                "y": {"field": "lo", "type": "quantitative", "scale": {"domain": [0, 0.6], "nice": false, "zero": false}, "axis": null},
                "y2": {"field": "hi"}
              }
            },
            {
              "data": {"name": "xray"},
              "mark": {"type": "tick", "orient": "horizontal", "size": 46, "thickness": 3, "color": "#0000ff", "opacity": 1},
              "encoding": {
                "x": {"field": "z", "type": "quantitative", "scale": {"domain": [-5, 62.5], "nice": false, "zero": false}, "axis": null},
                "y": {"field": "hi", "type": "quantitative", "scale": {"domain": [0, 0.6], "nice": false, "zero": false}, "axis": null}
              }
            },
            {
              "data": {"name": "xray"},
              "mark": {"type": "tick", "orient": "horizontal", "size": 46, "thickness": 3, "color": "#0000ff", "opacity": 1},
              "encoding": {
                "x": {"field": "z", "type": "quantitative", "scale": {"domain": [-5, 62.5], "nice": false, "zero": false}, "axis": null},
                "y": {"field": "lo", "type": "quantitative", "scale": {"domain": [0, 0.6], "nice": false, "zero": false}, "axis": null}
              }
            },
            {
              "data": {"name": "xray"},
              "mark": {"type": "point", "shape": "diamond", "filled": true, "size": 420, "opacity": 1},
              "encoding": {
                "x": {"field": "z", "type": "quantitative", "scale": {"domain": [-5, 62.5], "nice": false, "zero": false}, "axis": null},
                "y": {"field": "x", "type": "quantitative", "scale": {"domain": [0, 0.6], "nice": false, "zero": false}, "axis": null},
                "color": {"field": "series", "type": "nominal", "scale": {"domain": ["Raman", "AFM tomography", "XRay"], "range": ["#ff0000", "#1c7c1c", "#0000ff"]}}
              }
            },
            {
              "data": {"values": [{}]},
              "mark": {"type": "text", "font": "Liberation Sans", "fontSize": 45, "color": "#000000", "align": "center", "baseline": "middle"},
              "encoding": {
                "x": {"datum": -2.26, "type": "quantitative", "scale": {"domain": [-5, 62.5], "nice": false, "zero": false}, "axis": null},
                "y": {"datum": 0.534, "type": "quantitative", "scale": {"domain": [0, 0.6], "nice": false, "zero": false}, "axis": null},
                "text": {"value": "(c)"}
              }
            }
          ]
        },
        {
          "data": {"name": "inset"},
          "mark": {"type": "line", "color": "#141488", "strokeWidth": 3},
          "encoding": {
            "x": {"field": "pos", "type": "quantitative", "scale": {"domain": [-149, 148], "range": [801, 1068], "nice": false, "zero": false},
              "axis": {"orient": "bottom", "offset": -239.3, "values": [-100,-50,0,50,100],
                "labelExpr": "datum.value % 100 === 0 ? toString(datum.value) : ''",
                "tickSize": {"condition": {"test": "datum.value % 100 === 0", "value": -17}, "value": -9},
                "labelPadding": 34, "title": "𝑥 [nm]", "titleFontSize": 42, "titlePadding": -6, "domain": true, "domainColor": "#000000", "domainWidth": 3, "zindex": 1}},
            "y": {"field": "height", "type": "quantitative", "scale": {"domain": [-10, 50], "range": [237.7, 0], "nice": false, "zero": false},
              "axis": {"orient": "left", "offset": -801, "values": [0,10,20,30,40],
                "labelExpr": "datum.value % 20 === 0 ? toString(datum.value) : ''",
                "tickSize": {"condition": {"test": "datum.value % 20 === 0", "value": -19}, "value": -10},
                "labelPadding": 36, "title": "𝑧 [nm]", "titleFontSize": 44, "titlePadding": 6, "domain": true, "domainColor": "#000000", "domainWidth": 3, "zindex": 1}}
          }
        }
      ]
    }
  ]
}
